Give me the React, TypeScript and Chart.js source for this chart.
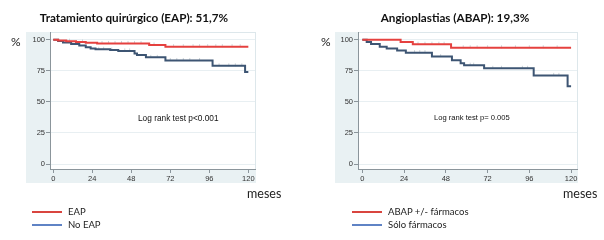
import React, { useEffect, useRef } from "react";
import { Chart, registerables } from "chart.js";
Chart.register(...registerables);

// ---- data ----
const xTickValues = [0, 24, 48, 72, 96, 120];
const yTickValues = [0, 25, 50, 75, 100];

// Left panel: Tratamiento quirúrgico
const eapMonths = [0, 3, 8, 14, 20, 27, 59, 69, 120];
const eapSurvival = [100, 99.4, 98.8, 98.2, 97.6, 97.0, 95.8, 94.4, 94.4];
const noEapMonths = [0, 3, 6, 11, 16, 20, 23, 26, 35, 40, 50, 51.5, 57, 69, 98, 118, 120];
const noEapSurvival = [100, 99, 97.8, 96.5, 95.3, 94, 93, 92.3, 91.7, 91, 89, 87.7, 85.8, 83.3, 79, 74, 74];
const eapCensor = [10, 18, 30, 34, 38, 42, 46, 50, 54, 62, 74, 80, 86, 90, 95, 100, 104, 110, 115];
const noEapCensor = [28, 31, 36, 44, 47, 60, 64, 72, 76, 80, 84, 90, 102, 108, 112, 116];

// Right panel: Angioplastias
const abapMonths = [0, 22, 29, 51, 120];
const abapSurvival = [100, 98.1, 96.4, 93.5, 93.5];
const soloMonths = [0, 2.5, 5, 10, 14, 20, 25, 40, 51.5, 56.5, 58.5, 70, 98.5, 118, 120];
const soloSurvival = [100, 98.2, 96.5, 94.4, 93, 91.3, 89.6, 86.4, 83.5, 81, 79.5, 77, 71.3, 62.5, 62.5];
const abapCensor = [32, 36, 40, 44, 47, 58, 62, 66, 72, 80, 88, 96, 104, 112];
const soloCensor = [30, 33, 36, 45, 62, 64, 75, 80, 92, 95, 110, 113];

const RED = "#e5413f";
const BLUE = "#3d5573";
const LIGHT_BG = "#e9f1f3";

function stepValue(months: number[], surv: number[], t: number) {
  let v = surv[0];
  for (let i = 0; i < months.length; i++) if (months[i] <= t) v = surv[i];
  return v;
}

type PanelProps = {
  left: number;
  width: number;
  pad: { left: number; right: number };
  xMin: number;
  xMax: number;
  bgLeft: number;
  series: { months: number[]; surv: number[]; censor: number[]; color: string }[];
};

function Panel({ left, width, pad, xMin, xMax, bgLeft, series }: PanelProps) {
  const ref = useRef<HTMLCanvasElement | null>(null);
  useEffect(() => {
    if (!ref.current) return;
    const bgPlugin = {
      id: "bgPlugin",
      beforeDraw(chart: any) {
        const { ctx, chartArea } = chart;
        ctx.save();
        ctx.fillStyle = LIGHT_BG;
        ctx.fillRect(bgLeft, chartArea.top, chartArea.right - bgLeft + 1, 183 - chartArea.top);
        ctx.fillStyle = "#ffffff";
        ctx.fillRect(chartArea.left, chartArea.top, chartArea.right - chartArea.left, chartArea.bottom - chartArea.top);
        ctx.strokeStyle = "#dde7eb";
        ctx.lineWidth = 1;
        ctx.strokeRect(chartArea.left + 0.5, chartArea.top + 0.5, chartArea.right - chartArea.left, chartArea.bottom - chartArea.top);
        ctx.restore();
      },
    };
    const datasets: any[] = [];
    series.forEach((s) => {
      datasets.push({
        type: "scatter",
        data: s.censor.map((t) => ({ x: t, y: stepValue(s.months, s.surv, t) + 0.8 })),
        pointStyle: "line",
        rotation: 90,
        radius: 1.5,
        borderColor: "#cdd4d9",
        borderWidth: 1,
        order: 2,
      });
    });
    series.forEach((s) => {
      datasets.push({
        type: "line",
        data: s.months.map((m, i) => ({ x: m, y: s.surv[i] })),
        stepped: true,
        borderColor: s.color,
        borderWidth: 2,
        pointRadius: 0,
        fill: false,
        order: 1,
      });
    });
    const chart = new Chart(ref.current, {
      type: "line",
      data: { datasets },
      plugins: [bgPlugin],
      options: {
        animation: false,
        responsive: false,
        events: [],
        layout: { padding: { left: pad.left, right: pad.right, top: 32, bottom: 51 } },
        plugins: { legend: { display: false }, tooltip: { enabled: false } },
        scales: {
          x: {
            type: "linear",
            min: xMin,
            max: xMax,
            afterBuildTicks: (scale: any) => {
              scale.ticks = xTickValues.map((v) => ({ value: v }));
            },
            afterFit: (scale: any) => {
              scale.height = 20;
            },
            grid: { drawOnChartArea: false, tickLength: 4, tickColor: "#8b959b" },
            border: { color: "#8b959b", width: 1 },
            ticks: {
              autoSkip: false,
              maxRotation: 0,
              padding: 1,
              color: "#333",
              font: { family: "Liberation Sans, Arial", size: 7.5 },
            },
          },
          y: {
            type: "linear",
            min: -4,
            max: 106.2,
            afterBuildTicks: (scale: any) => {
              scale.ticks = yTickValues.map((v) => ({ value: v }));
            },
            afterFit: (scale: any) => {
              scale.width = 30;
            },
            grid: { color: "#e8eff2", tickLength: 4, tickColor: "#8b959b" },
            border: { color: "#8b959b", width: 1 },
            ticks: {
              padding: 1,
              color: "#333",
              font: { family: "Liberation Sans, Arial", size: 7.5 },
            },
          },
        },
      } as any,
    });
    return () => chart.destroy();
  }, []);
  return (
    <canvas
      ref={ref}
      width={width}
      height={240}
      style={{ position: "absolute", left, top: 0, width, height: 240 }}
    />
  );
}

const txt = (s: React.CSSProperties): React.CSSProperties => ({
  position: "absolute",
  whiteSpace: "nowrap",
  margin: 0,
  ...s,
});

function Legend({ x, y, color, label }: { x: number; y: number; color: string; label: string }) {
  return (
    <>
      <div style={{ position: "absolute", left: x, top: y - 1, width: 30, height: 2, background: color }} />
      <div
        style={txt({
          left: x + 36,
          top: y - 6,
          lineHeight: "12px",
          fontSize: 9.5,
          fontFamily: "Lato, 'Open Sans', sans-serif",
          color: "#222",
        })}
      >
        {label}
      </div>
    </>
  );
}

export default function App() {
  const titleStyle = (cx: number): React.CSSProperties =>
    txt({
      left: cx,
      top: 9,
      transform: "translateX(-50%)",
      fontFamily: "Lato, 'Open Sans', sans-serif",
      fontWeight: 700,
      fontSize: 11.7,
      lineHeight: "16px",
      color: "#111",
    });
  const pctStyle = (x: number) =>
    txt({ left: x, top: 35, fontFamily: "Lato, sans-serif", fontSize: 12, lineHeight: "14px", color: "#222" });
  const mesesStyle = (x: number) =>
    txt({ left: x, top: 186, fontFamily: "Lato, sans-serif", fontSize: 12.5, lineHeight: "16px", color: "#222" });
  const logStyle = (x: number, size: number) =>
    txt({ left: x, top: 113, fontFamily: "Liberation Sans, Arial, sans-serif", fontSize: size, lineHeight: "10px", color: "#111" });
  return (
    <div style={{ position: "fixed", left: 0, top: 0, width: 604, height: 240, background: "#fff", overflow: "hidden" }}>
      <Panel
        left={0}
        width={300}
        pad={{ left: 20, right: 45 }}
        xMin={-2}
        xMax={124.1}
        bgLeft={26}
        series={[
          { months: eapMonths, surv: eapSurvival, censor: eapCensor, color: RED },
          { months: noEapMonths, surv: noEapSurvival, censor: noEapCensor, color: BLUE },
        ]}
      />
      <Panel
        left={300}
        width={304}
        pad={{ left: 28, right: 27 }}
        xMin={-2.5}
        xMax={123.4}
        bgLeft={35}
        series={[
          { months: abapMonths, surv: abapSurvival, censor: abapCensor, color: RED },
          { months: soloMonths, surv: soloSurvival, censor: soloCensor, color: BLUE },
        ]}
      />
      <div style={titleStyle(134)}>Tratamiento quirúrgico (EAP): 51,7%</div>
      <div style={titleStyle(455)}>Angioplastias (ABAP): 19,3%</div>
      <div style={pctStyle(11)}>%</div>
      <div style={pctStyle(321)}>%</div>
      <div style={logStyle(138, 8.3)}>Log rank test p&lt;0.001</div>
      <div style={logStyle(434, 7.6)}>Log rank test p= 0.005</div>
      <div style={mesesStyle(247)}>meses</div>
      <div style={mesesStyle(563)}>meses</div>
      <Legend x={32} y={212} color="#d9453f" label="EAP" />
      <Legend x={32} y={225} color="#5f83c5" label="No EAP" />
      <Legend x={352} y={212} color="#d9453f" label="ABAP +/- fármacos" />
      <Legend x={352} y={225} color="#5f83c5" label="Sólo fármacos" />
    </div>
  );
}
